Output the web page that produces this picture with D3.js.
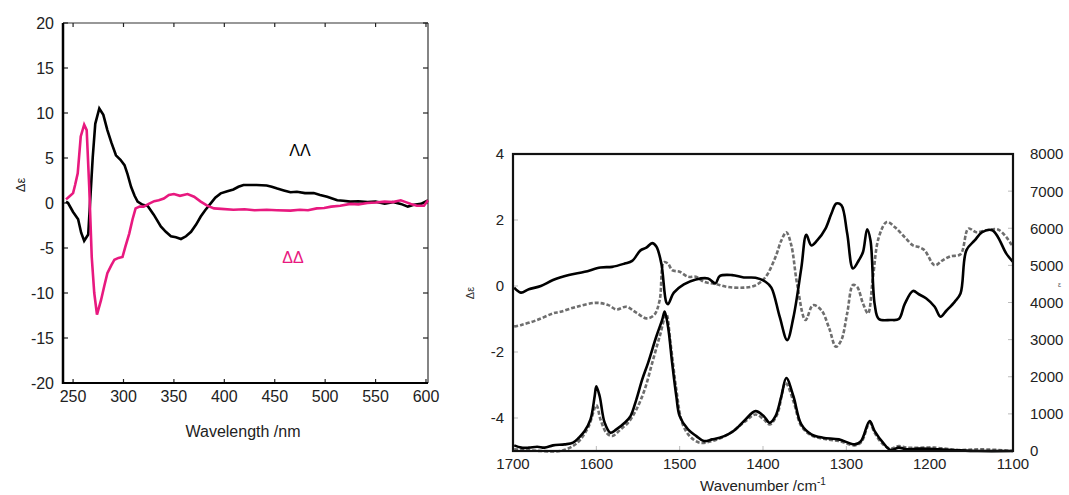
<!DOCTYPE html>
<html><head><meta charset="utf-8">
<script src="https://cdn.jsdelivr.net/npm/d3@7"></script>
<style>body{margin:0;background:#fff}svg{display:block}text{font-family:"Liberation Sans",Arial,sans-serif}</style>
</head><body>
<svg id="c" width="1069" height="495"></svg>
<script>
// ---- Left panel: CD spectra ----
const cdWavelength_LL = [243,245,250,255,258,261,265,269.5,272,276,280,284,288,292.5,297,301,304,307.5,311,314,319,324,330,337,342,347,352,357,362,367,372,376.6,381,386.5,391,396.4,403,409,414,419,425,432,442,447,452.5,459,465.6,472,480,488.7,495,502,507,512,518,525,533,542,550,559,567,575,582,588,595,602];
const cdValue_LL =      [0.15,0,-1,-1.8,-3.3,-4.2,-3.5,5.1,8.8,10.5,9.8,8.1,6.7,5.3,4.8,4.2,3.2,1.8,0.8,0.15,-0.2,-0.33,-1.3,-2.6,-3.2,-3.7,-3.8,-4.0,-3.7,-3.2,-2.4,-1.5,-0.8,-0.04,0.6,1.07,1.3,1.5,1.8,2.0,2.0,2.0,1.95,1.8,1.6,1.4,1.2,1.25,1.1,1.1,0.9,0.7,0.5,0.3,0.25,0.15,0.2,0.1,0.15,-0.07,0.1,-0.1,-0.4,-0.2,-0.1,0.3];
const cdWavelength_DD = [243,246,250,252,254.6,257.6,261,263.5,266,268.5,271,273.7,277.7,281,284,288,291,295,299,302,305.7,309,312,316,320,325,330.5,335,340,345,350,356,363.5,370,376.6,383,389.8,397,409,420,430,442,452,465.6,475,483,491.7,499,506,515,525,533,542,550,559,567,575,580,585,591,598,602];
const cdValue_DD =      [0.4,0.7,1.1,2.0,3.3,7.4,8.7,8.1,1.8,-6,-10,-12.4,-10.8,-9.2,-7.8,-6.9,-6.3,-6.1,-6.0,-4.8,-3.4,-1.8,-0.6,-0.4,-0.4,-0.1,0.2,0.3,0.5,0.9,1.0,0.8,1.0,0.7,0.15,-0.3,-0.6,-0.65,-0.75,-0.7,-0.8,-0.75,-0.8,-0.85,-0.75,-0.8,-0.6,-0.55,-0.4,-0.3,-0.1,-0.15,0.0,0.05,0.15,0.1,0.3,0.1,-0.1,-0.3,-0.3,0.3];
const cdXTicks = [250,300,350,400,450,500,550,600];
const cdYTicks = [-20,-15,-10,-5,0,5,10,15,20];

// ---- Right panel: VCD (left axis) and IR (right axis) ----
const vcdWn_solid = [1698.6,1690.5,1681,1666.6,1652,1633,1614,1595,1581,1566,1557,1547,1540,1533,1528,1522,1516,1514,1507,1495,1480.5,1466,1457,1452,1437,1423,1409,1397,1390,1380,1371,1363.5,1354,1348,1342,1335,1325,1318,1312,1306,1299,1292,1285,1280,1275,1271,1266,1261,1247,1237,1230,1220,1213,1204,1194,1187,1180,1170,1163,1156,1146,1137,1125,1118,1108,1100];
const vcdVal_solid = [-0.05,-0.2,-0.1,0,0.18,0.33,0.43,0.56,0.58,0.68,0.76,1.08,1.16,1.3,1.2,0.68,-0.5,-0.55,-0.2,0.05,0.2,0.23,0.08,0.3,0.33,0.26,0.25,0.13,-0.05,-0.93,-1.64,-0.95,0.55,1.55,1.23,1.38,1.74,2.19,2.5,2.45,1.6,0.53,0.78,1.03,1.72,1.38,-0.55,-1.0,-1.03,-1.0,-0.55,-0.15,-0.25,-0.38,-0.63,-0.93,-0.75,-0.48,-0.23,1.08,1.38,1.63,1.69,1.48,0.98,0.73];
const vcdWn_dashed = [1698.6,1690,1671,1652,1643,1624,1600,1585.5,1576,1564,1552,1540,1530.6,1524,1519,1514,1509,1500,1490,1480.5,1471,1457,1442,1423,1409,1397,1385,1378,1372,1366,1359,1349,1340,1330,1320.6,1312.5,1306,1299,1292,1287,1280,1274,1268,1261,1251.4,1242,1230,1220,1213,1206,1194,1184.5,1175,1163,1153.5,1144,1132,1118,1108,1100];
const vcdVal_dashed = [-1.23,-1.18,-1.03,-0.83,-0.78,-0.63,-0.51,-0.58,-0.71,-0.63,-0.81,-0.98,-0.88,-0.43,0.72,0.68,0.48,0.43,0.28,0.28,0.13,0.06,-0.03,-0.05,0.02,0.27,0.88,1.38,1.63,1.23,0.05,-1.03,-0.58,-0.73,-1.28,-1.84,-1.64,-0.83,0.03,-0.03,-0.53,-0.83,0.28,1.48,1.94,1.79,1.48,1.23,1.18,1.08,0.63,0.78,0.9,0.96,1.74,1.63,1.69,1.71,1.48,1.18];
const irWn_solid = [1698.6,1690,1681,1671,1662,1652,1638,1628,1621,1614,1607,1602,1600,1596,1590,1583,1576,1566,1559,1552,1545,1538,1528,1521,1518,1514,1509,1504,1500,1490,1480,1471,1461,1452,1442,1433,1421,1409,1399,1392,1385,1378,1372,1363.5,1354,1342,1328,1309,1290,1282.4,1272,1266,1256,1247,1237,1227.5,1213,1189,1165.5,1142,1100];
const irVal_solid = [152,90,90,116,90,152,179,224,358,536,850,1475,1743,1475,760,492,581,760,939,1386,1922,2369,3084,3531,3755,3353,2369,1475,939,581,402,268,313,358,447,581,850,1073,939,760,939,1475,1967,1475,715,447,358,313,179,268,805,536,224,27,90,45,63,45,18,0,0];
const irWn_dashed = [1698.6,1666,1643,1628,1619,1609,1600,1595,1588,1581,1571,1562,1552,1542,1533,1524,1516,1511,1504,1497,1488,1476,1461,1442,1421,1409,1399,1392,1383,1373,1363.5,1354,1342,1328,1309,1290,1282,1272,1266,1256,1247,1237,1227.5,1194,1165.5,1137,1100];
const irVal_dashed = [45,0,0,134,313,670,1230,850,492,402,581,760,1117,1654,2369,3084,3680,2906,1654,760,402,224,268,447,805,983,850,715,983,1833,1341,670,420,331,268,152,241,760,492,179,63,134,90,90,27,45,0];
const irXTicks = [1700,1600,1500,1400,1300,1200,1100];
const vcdYTicks = [-4,-2,0,2,4];
const irYTicks = [0,1000,2000,3000,4000,5000,6000,7000,8000];

const svg = d3.select("#c");

// ===== Left panel =====
const L = {x0:63, x1:428, y0:23, y1:383};
const xL = d3.scaleLinear().domain([240,602]).range([L.x0, L.x1]);
const yL = d3.scaleLinear().domain([-20,20]).range([L.y1, L.y0]);
const gL = svg.append("g");
// frame top/right thin
gL.append("line").attr("x1",L.x0).attr("x2",L.x1).attr("y1",L.y0).attr("y2",L.y0).attr("stroke","#333").attr("stroke-width",1.2);
gL.append("line").attr("x1",L.x1).attr("x2",L.x1).attr("y1",L.y0).attr("y2",L.y1).attr("stroke","#333").attr("stroke-width",1.2);
// ticks
cdYTicks.forEach(t=>{
  gL.append("line").attr("x1",L.x0).attr("x2",L.x0+5).attr("y1",yL(t)).attr("y2",yL(t)).attr("stroke","#222").attr("stroke-width",1.2);
  gL.append("line").attr("x1",L.x1).attr("x2",L.x1-5).attr("y1",yL(t)).attr("y2",yL(t)).attr("stroke","#222").attr("stroke-width",1.2);
  gL.append("text").attr("x",54).attr("y",yL(t)).attr("dy","0.36em").attr("text-anchor","end").attr("font-size",16).attr("fill","#222").text(t);
});
cdXTicks.forEach(t=>{
  gL.append("line").attr("x1",xL(t)).attr("x2",xL(t)).attr("y1",L.y1).attr("y2",L.y1-4).attr("stroke","#222").attr("stroke-width",1.2);
  gL.append("line").attr("x1",xL(t)).attr("x2",xL(t)).attr("y1",L.y0).attr("y2",L.y0+4).attr("stroke","#222").attr("stroke-width",1.2);
  gL.append("text").attr("x",xL(t)).attr("y",402).attr("text-anchor","middle").attr("font-size",16).attr("fill","#222").text(t);
});
// axes thick
gL.append("line").attr("x1",L.x0).attr("x2",L.x0).attr("y1",L.y0).attr("y2",L.y1+1).attr("stroke","#000").attr("stroke-width",2.5);
gL.append("line").attr("x1",L.x0).attr("x2",L.x1).attr("y1",L.y1).attr("y2",L.y1).attr("stroke","#000").attr("stroke-width",2);
gL.append("text").attr("x",243).attr("y",437).attr("text-anchor","middle").attr("font-size",16).attr("fill","#222").text("Wavelength /nm");
gL.append("text").attr("transform","translate(25,185) rotate(-90)").attr("text-anchor","middle").attr("font-size",13).attr("fill","#222").text("Δε");
const lineL = d3.line().x((d,i,a)=>xL(d[0])).y(d=>yL(d[1]));
gL.append("path").datum(d3.zip(cdWavelength_LL, cdValue_LL)).attr("d",lineL).attr("fill","none").attr("stroke","#000").attr("stroke-width",2.6);
gL.append("path").datum(d3.zip(cdWavelength_DD, cdValue_DD)).attr("d",lineL).attr("fill","none").attr("stroke","#e8197f").attr("stroke-width",2.6);
gL.append("text").attr("x",300).attr("y",156).attr("text-anchor","middle").attr("font-size",16).attr("fill","#000").text("ΛΛ");
gL.append("text").attr("x",293).attr("y",263).attr("text-anchor","middle").attr("font-size",16).attr("fill","#e8197f").text("ΔΔ");

// ===== Right panel =====
const R = {x0:513, x1:1013, y0:154, y1:451};
const xR = d3.scaleLinear().domain([1700,1100]).range([R.x0, R.x1]);
const yR = d3.scaleLinear().domain([-5,4]).range([R.y1, R.y0]);
const yIR = d3.scaleLinear().domain([0,8000]).range([R.y1, R.y0]);
const gR = svg.append("g");
vcdYTicks.forEach(t=>{
  gR.append("line").attr("x1",R.x0).attr("x2",R.x0+5).attr("y1",yR(t)).attr("y2",yR(t)).attr("stroke","#bbb").attr("stroke-width",1);
  gR.append("text").attr("x",504).attr("y",yR(t)).attr("dy","0.36em").attr("text-anchor","end").attr("font-size",15).attr("fill","#222").text(t);
});
irYTicks.forEach(t=>{
  gR.append("line").attr("x1",R.x1).attr("x2",R.x1-5).attr("y1",yIR(t)).attr("y2",yIR(t)).attr("stroke","#bbb").attr("stroke-width",1);
  gR.append("text").attr("x",1030).attr("y",yIR(t)).attr("dy","0.36em").attr("text-anchor","start").attr("font-size",15).attr("fill","#222").text(t);
});
irXTicks.forEach(t=>{
  gR.append("line").attr("x1",xR(t)).attr("x2",xR(t)).attr("y1",R.y1).attr("y2",R.y1-5).attr("stroke","#bbb").attr("stroke-width",1);
  gR.append("text").attr("x",xR(t)).attr("y",469).attr("text-anchor","middle").attr("font-size",15).attr("fill","#222").text(t);
});
const xl = gR.append("text").attr("x",763).attr("y",491).attr("text-anchor","middle").attr("font-size",15).attr("fill","#222");
xl.append("tspan").text("Wavenumber /cm");
xl.append("tspan").attr("dy",-6).attr("font-size",10).text("-1");
gR.append("text").attr("transform","translate(474,293) rotate(-90)").attr("text-anchor","middle").attr("font-size",11).attr("fill","#333").text("Δε");
gR.append("text").attr("x",1058).attr("y",287).attr("font-size",7).attr("fill","#555").text("ε");

const lineV = d3.line().x(d=>xR(d[0])).y(d=>yR(d[1])).curve(d3.curveCatmullRom.alpha(0.5));
const lineI = d3.line().x(d=>xR(d[0])).y(d=>yIR(d[1])).curve(d3.curveCatmullRom.alpha(0.5));
gR.append("path").datum(d3.zip(irWn_dashed, irVal_dashed)).attr("d",lineI).attr("fill","none").attr("stroke","#6e6e6e").attr("stroke-width",2.6).attr("stroke-dasharray","4,2");
gR.append("path").datum(d3.zip(irWn_solid, irVal_solid)).attr("d",lineI).attr("fill","none").attr("stroke","#000").attr("stroke-width",2.6);
gR.append("path").datum(d3.zip(vcdWn_dashed, vcdVal_dashed)).attr("d",lineV).attr("fill","none").attr("stroke","#6e6e6e").attr("stroke-width",2.6).attr("stroke-dasharray","4,2");
gR.append("path").datum(d3.zip(vcdWn_solid, vcdVal_solid)).attr("d",lineV).attr("fill","none").attr("stroke","#000").attr("stroke-width",2.6);
gR.append("rect").attr("x",R.x0).attr("y",R.y0).attr("width",R.x1-R.x0).attr("height",R.y1-R.y0).attr("fill","none").attr("stroke","#111").attr("stroke-width",2.2);
</script>
</body></html>
